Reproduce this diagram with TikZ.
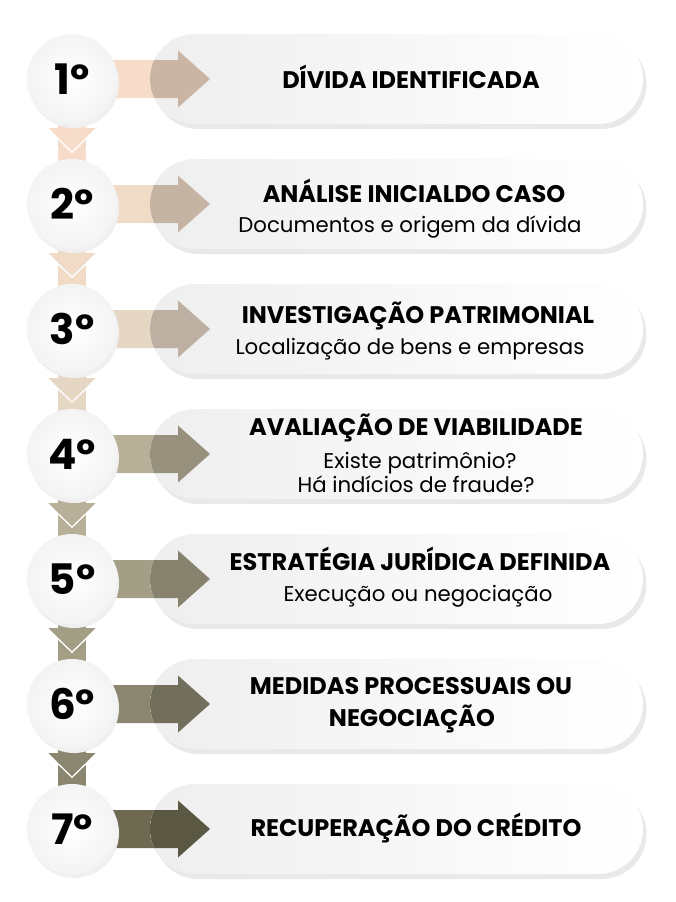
\documentclass[tikz,border=0pt]{standalone}
\usepackage{fontspec}
\setmainfont{Poppins}[BoldFont={Poppins Bold}]
\usetikzlibrary{shapes.misc,calc}
\pgfdeclarelayer{bg}
\pgfsetlayers{bg,main}
\definecolor{cA}{HTML}{F7DDC9}
\definecolor{cB}{HTML}{F0DBC7}
\definecolor{cC}{HTML}{E6D6C4}
\definecolor{cD}{HTML}{B8AF98}
\definecolor{cE}{HTML}{A39E86}
\definecolor{cF}{HTML}{8A8670}
\definecolor{cG}{HTML}{6E6A52}
\tikzset{
  circ/.style={circle, minimum size=90pt, inner sep=0pt, inner color=white, outer color=gray!9,
    font=\bfseries\fontsize{42}{42}\selectfont},
  circshadow/.style={fill=gray!12},
  pill/.style={rounded rectangle, minimum width=493pt, minimum height=90pt, inner sep=0pt},
  pillbody/.style={pill, left color=gray!13, right color=white},
  pillshadow/.style={pill, fill=gray!17},
  ttl/.style={anchor=base, font=\bfseries\fontsize{24}{28}\selectfont},
  sub/.style={anchor=base, font=\fontsize{21.3}{26}\selectfont},
}
% arrow from circle #1 into its pill
\newcommand\arrowpath[1]{%
  ($(k#1)+(28,-19)$) -- ($(k#1)+(106,-19)$) -- ($(k#1)+(106,-28.5)$) -- ($(k#1)+(138,0)$) --
  ($(k#1)+(106,28.5)$) -- ($(k#1)+(106,19)$) -- ($(k#1)+(28,19)$) -- cycle}
% #1 index, #2 y, #3 colour, #4 number label
\newcommand\stepblock[4]{%
  \coordinate (k#1) at (72,#2);
  \node[pillshadow] (ps#1) at (400,#2+5) {};
  \fill[#3] \arrowpath{#1};
  \node[pillbody] (p#1) at (396.5,#2) {};
  \begin{scope}
    \clip[rounded corners=45pt] (150,#2-45) rectangle (643,#2+45);
    \fill[#3!82!black] \arrowpath{#1};
    \draw[white, opacity=.45, line width=1.2pt] (p#1.north west) arc[start angle=90, end angle=270, radius=45];
  \end{scope}
  \fill[circshadow] (74,#2+4) circle (45);
  \node[circ] (c#1) at (k#1) {#4};
}
% #1 upper index, #2 lower index, #3 colour
\newcommand\linkblock[3]{%
  \begin{pgfonlayer}{bg}
    \fill[#3] ($(c#1.south)+(-14,-6)$) rectangle ($(c#2.north)+(14,6)$);
    \fill[#3] ($(c#1.south)+(-23.5,4)$) -- ($(c#1.south)+(23.5,4)$) -- ($(c#1.south)+(0,27)$) -- cycle;
    \draw[white, line width=1.3pt] ($(c#1.south)+(-14,14.5)$) -- ($(c#1.south)+(0,28)$) -- ($(c#1.south)+(14,14.5)$);
  \end{pgfonlayer}
}
\begin{document}
\begin{tikzpicture}[x=1pt,y=-1pt]
\useasboundingbox (0,0) rectangle (675,902);
\begin{pgfonlayer}{bg}
\fill[white] (0,0) rectangle (675,902);
\end{pgfonlayer}
\stepblock{1}{79}{cA}{1º}
\stepblock{2}{204}{cB}{2º}
\stepblock{3}{329}{cC}{3º}
\stepblock{4}{454}{cD}{4º}
\stepblock{5}{579}{cE}{5º}
\stepblock{6}{704}{cF}{6º}
\stepblock{7}{829}{cG}{7º}
\linkblock{1}{2}{cA}
\linkblock{2}{3}{cB}
\linkblock{3}{4}{cC}
\linkblock{4}{5}{cD}
\linkblock{5}{6}{cE}
\linkblock{6}{7}{cF}
\node[ttl] (t1) at (411,88) {DÍVIDA IDENTIFICADA};
\node[ttl] (t2) at (414,202) {ANÁLISE INICIALDO CASO};
\node[sub] (s2) at (410,232) {Documentos e origem da dívida};
\node[ttl] (t3) at (418,323) {INVESTIGAÇÃO PATRIMONIAL};
\node[sub] (s3) at (410,354) {Localização de bens e empresas};
\node[ttl] (t4) at (416,435) {AVALIAÇÃO DE VIABILIDADE};
\node[sub] (s4a) at (420,468) {Existe patrimônio?};
\node[sub] (s4b) at (416,492) {Há indícios de fraude?};
\node[ttl] (t5) at (420,570) {ESTRATÉGIA JURÍDICA DEFINIDA};
\node[sub] (s5) at (418,601) {Execução ou negociação};
\node[ttl] (t6a) at (411,694) {MEDIDAS PROCESSUAIS OU};
\node[ttl] (t6b) at (412,726) {NEGOCIAÇÃO};
\node[ttl] (t7) at (416,836) {RECUPERAÇÃO DO CRÉDITO};
\end{tikzpicture}
\end{document}
